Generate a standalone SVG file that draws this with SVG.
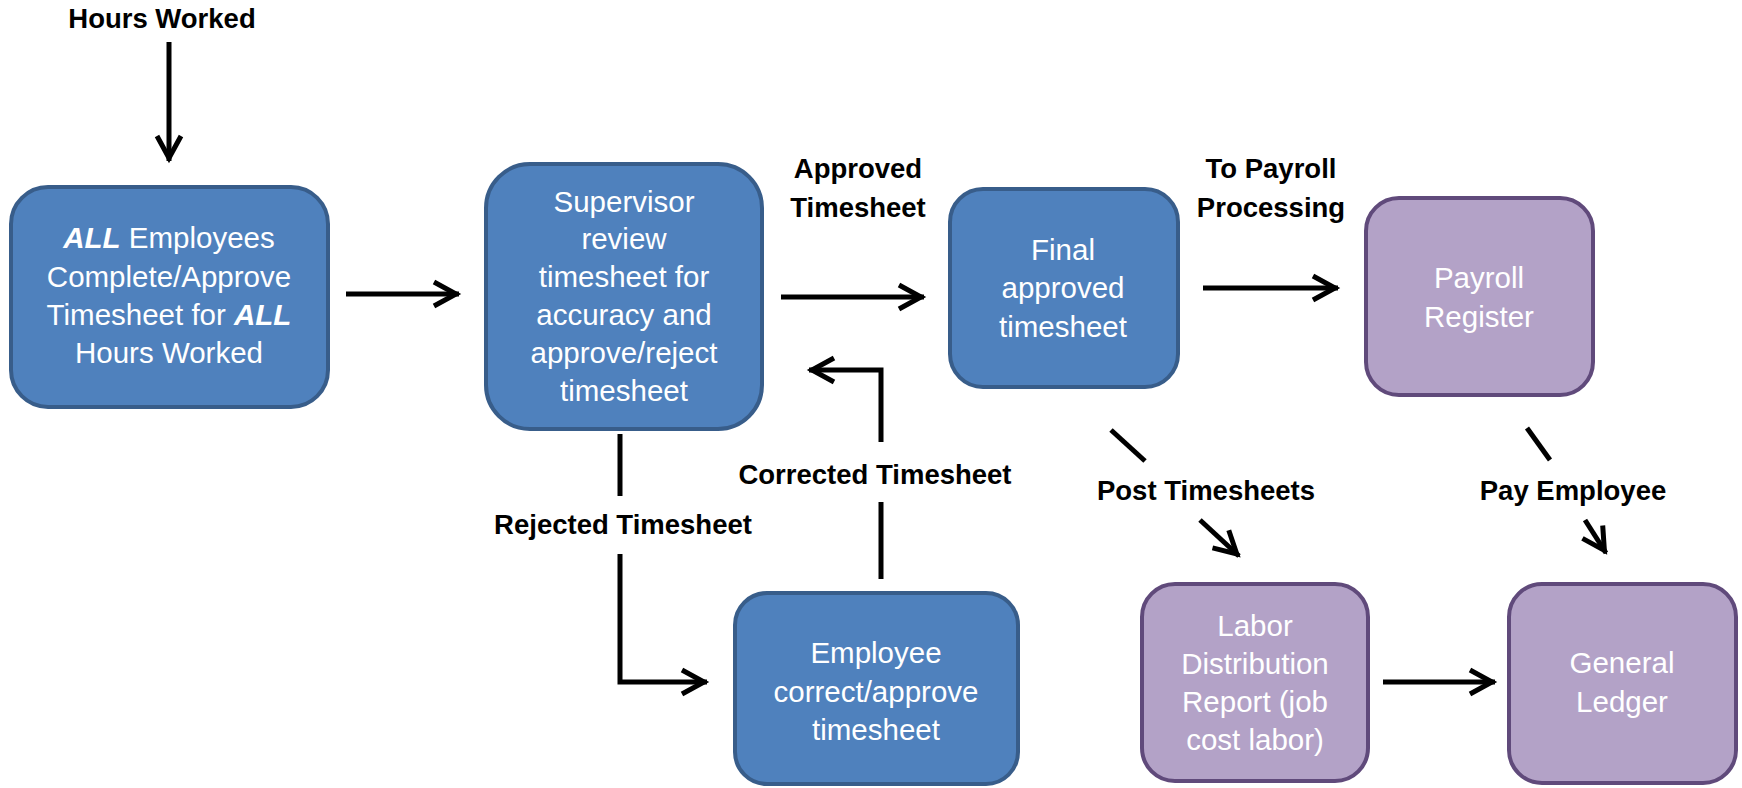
<svg xmlns="http://www.w3.org/2000/svg" width="1742" height="788" viewBox="0 0 1742 788">
<style>
.bn rect{fill:#4F81BD;stroke:#385D8A;stroke-width:4}
.pn rect{fill:#B3A2C7;stroke:#604A7B;stroke-width:4}
.nt{font-family:"Liberation Sans",Arial,sans-serif;font-size:29.5px;fill:#FFFFFF;text-anchor:middle}
.lb{font-family:"Liberation Sans",Arial,sans-serif;font-size:27.5px;font-weight:bold;fill:#000000;text-anchor:middle}
.em{font-weight:bold;font-style:italic}
.cn path{fill:none;stroke:#000000;stroke-width:5}
</style>
<defs>
<marker id="arr" markerUnits="userSpaceOnUse" orient="auto" refX="0" refY="0" markerWidth="40" markerHeight="40" style="overflow:visible">
<path d="M-25,-12 L-3,0 L-25,12" fill="none" stroke="#000000" stroke-width="5"/>
</marker>
</defs>
<rect width="1742" height="788" fill="#FFFFFF"/>

<g id="connectors" class="cn">
<path d="M169,42 V161" marker-end="url(#arr)"/>
<path d="M346,294 H459" marker-end="url(#arr)"/>
<path d="M781,297 H924" marker-end="url(#arr)"/>
<path d="M1203,288 H1338" marker-end="url(#arr)"/>
<path d="M620,434 V496"/>
<path d="M620,554 V682 H707" marker-end="url(#arr)"/>
<path d="M881,579 V502"/>
<path d="M881,442 V370 H809" marker-end="url(#arr)"/>
<path d="M1111,430 L1145,461"/>
<path d="M1200,520 L1239,556" marker-end="url(#arr)"/>
<path d="M1527,428 L1550,460"/>
<path d="M1585,520 L1606,553" marker-end="url(#arr)"/>
<path d="M1383,682 H1495" marker-end="url(#arr)"/>
</g>

<g id="labels">
<text class="lb" x="162" y="28">Hours Worked</text>
<text class="lb" x="858" y="178">Approved</text>
<text class="lb" x="858" y="217">Timesheet</text>
<text class="lb" x="1271" y="178">To Payroll</text>
<text class="lb" x="1271" y="217">Processing</text>
<text class="lb" x="875" y="484">Corrected Timesheet</text>
<text class="lb" x="623" y="534">Rejected Timesheet</text>
<text class="lb" x="1206" y="500">Post Timesheets</text>
<text class="lb" x="1573" y="500">Pay Employee</text>
</g>

<g id="node-employees" class="bn">
<rect x="11" y="187" width="317" height="220" rx="37" ry="37"/>
<text class="nt" x="169" y="248"><tspan class="em">ALL</tspan> Employees</text>
<text class="nt" x="169" y="287">Complete/Approve</text>
<text class="nt" x="169" y="325">Timesheet for <tspan class="em">ALL</tspan></text>
<text class="nt" x="169" y="363">Hours Worked</text>
</g>

<g id="node-supervisor" class="bn">
<rect x="486" y="164" width="276" height="265" rx="44" ry="44"/>
<text class="nt" x="624" y="212">Supervisor</text>
<text class="nt" x="624" y="249">review</text>
<text class="nt" x="624" y="287">timesheet for</text>
<text class="nt" x="624" y="325">accuracy and</text>
<text class="nt" x="624" y="363">approve/reject</text>
<text class="nt" x="624" y="401">timesheet</text>
</g>

<g id="node-final" class="bn">
<rect x="950" y="189" width="228" height="198" rx="33" ry="33"/>
<text class="nt" x="1063" y="260">Final</text>
<text class="nt" x="1063" y="298">approved</text>
<text class="nt" x="1063" y="337">timesheet</text>
</g>

<g id="node-payroll" class="pn">
<rect x="1366" y="198" width="227" height="197" rx="33" ry="33"/>
<text class="nt" x="1479" y="288">Payroll</text>
<text class="nt" x="1479" y="327">Register</text>
</g>

<g id="node-employee-correct" class="bn">
<rect x="735" y="593" width="283" height="191" rx="32" ry="32"/>
<text class="nt" x="876" y="663">Employee</text>
<text class="nt" x="876" y="702">correct/approve</text>
<text class="nt" x="876" y="740">timesheet</text>
</g>

<g id="node-labor" class="pn">
<rect x="1142" y="584" width="226" height="197" rx="33" ry="33"/>
<text class="nt" x="1255" y="636">Labor</text>
<text class="nt" x="1255" y="674">Distribution</text>
<text class="nt" x="1255" y="712">Report (job</text>
<text class="nt" x="1255" y="750">cost labor)</text>
</g>

<g id="node-ledger" class="pn">
<rect x="1509" y="584" width="227" height="199" rx="33" ry="33"/>
<text class="nt" x="1622" y="673">General</text>
<text class="nt" x="1622" y="712">Ledger</text>
</g>
</svg>
